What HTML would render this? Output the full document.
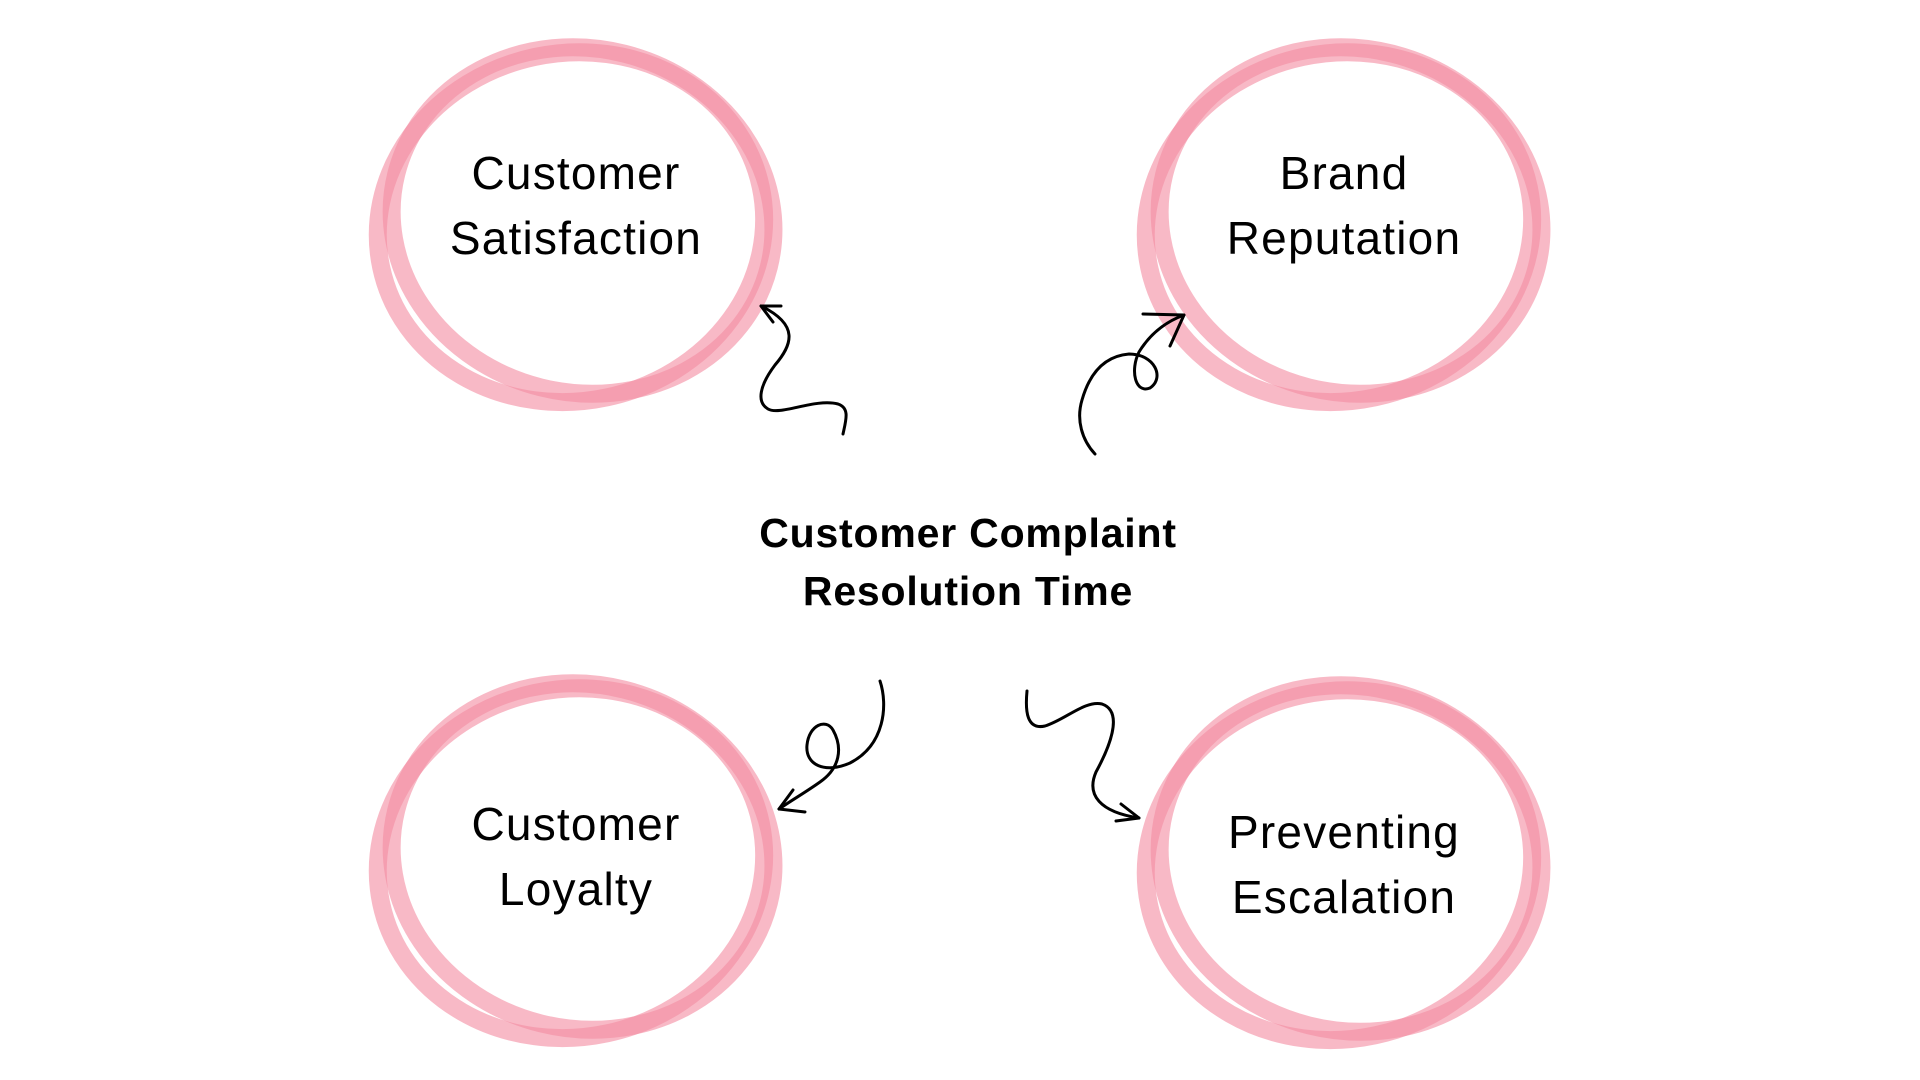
<!DOCTYPE html>
<html><head><meta charset="utf-8"><style>
html,body{margin:0;padding:0;background:#fff;}
svg{display:block}
text{font-family:"Liberation Sans",sans-serif;fill:#000}
.r{fill:none;stroke:#f48ea3;stroke-opacity:0.62;stroke-width:18}
.a{fill:none;stroke:#000;stroke-width:3;stroke-linecap:round;stroke-linejoin:round}
</style></head><body>
<svg width="1920" height="1080" viewBox="0 0 1920 1080" xmlns="http://www.w3.org/2000/svg">
<defs>
<g id="ring">
<ellipse class="r" cx="-6" cy="4" rx="194" ry="174" transform="rotate(-12)"/>
<ellipse class="r" cx="6" cy="-3" rx="192" ry="172" transform="rotate(14)"/>
</g>
</defs>
<use href="#ring" x="576" y="222"/>
<use href="#ring" x="1344" y="222"/>
<use href="#ring" x="576" y="858"/>
<use href="#ring" x="1344" y="860"/>

<g font-size="46" text-anchor="middle" letter-spacing="1.2">
<text x="576" y="189">Customer</text>
<text x="576" y="254">Satisfaction</text>
<text x="1344" y="189">Brand</text>
<text x="1344" y="254">Reputation</text>
<text x="576" y="840">Customer</text>
<text x="576" y="905">Loyalty</text>
<text x="1344" y="848">Preventing</text>
<text x="1344" y="913">Escalation</text>
</g>
<g font-size="41" font-weight="bold" text-anchor="middle" letter-spacing="0.8">
<text x="968" y="547">Customer Complaint</text>
<text x="968" y="605">Resolution Time</text>
</g>

<path class="a" d="M843,434 C846,420 850,408 838,404 C815,398 780,416 768,409 C756,402 760,385 775,365 C792,345 800,325 761,306"/>
<path class="a" d="M781,306 L761,306 L773,322"/>

<path class="a" d="M1095,454 C1082,440 1076,420 1082,400 C1090,372 1105,356 1129,354 C1155,354 1165,378 1150,388 C1135,394 1130,370 1139,352 C1150,334 1165,322 1184,315"/>
<path class="a" d="M1143,314 L1184,315 L1170,346"/>

<path class="a" d="M880,681 C888,705 885,745 850,763 C825,774 805,765 807,745 C809,725 826,718 833,730 C843,748 840,768 820,782 C806,792 792,800 779,809"/>
<path class="a" d="M793,790 L779,809 L805,812"/>

<path class="a" d="M1027,691 C1025,712 1027,730 1045,726 C1065,720 1085,700 1102,704 C1125,712 1108,750 1096,772 C1086,795 1100,812 1139,818"/>
<path class="a" d="M1121,804 L1139,818 L1116,821"/>
</svg>
</body></html>
